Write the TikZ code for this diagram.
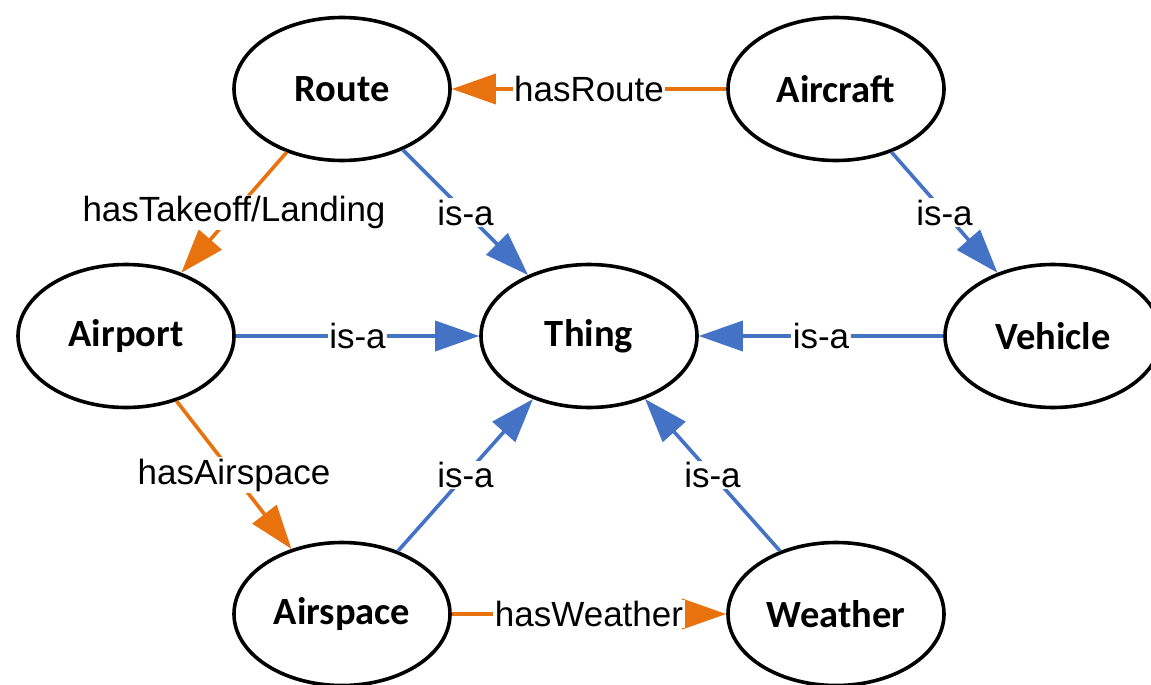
\documentclass[tikz,border=0pt]{standalone}
\usepackage{fontspec}
\setmainfont{Liberation Sans}
\newfontfamily\nodefont{Carlito}
\usetikzlibrary{arrows.meta,shapes.geometric}
\definecolor{orangeC}{RGB}{232,114,14}
\definecolor{blueC}{RGB}{68,114,196}
\begin{document}
\begin{tikzpicture}[x=1pt,y=-1pt,
  concept/.style={ellipse,draw=black,line width=3.6pt,minimum width=216pt,minimum height=143pt,inner sep=0pt,font=\nodefont\bfseries\fontsize{38.5}{40}\selectfont},
  rel/.style={line width=3.6pt,-{Triangle[length=44pt,width=30pt]}},
  isa/.style={rel,draw=blueC},
  has/.style={rel,draw=orangeC},
  lbl/.style={fill=white,inner sep=1.5pt,font=\fontsize{35}{36}\selectfont,text=black}
]
\fill[white] (0,0) rectangle (1151,685);
\useasboundingbox (0,0) rectangle (1151,685);

\node[concept] (Route)    at (342,89)   {Route};
\node[concept] (Aircraft) at (836,89)   {Aircraft};
\node[concept] (Airport)  at (126,336)  {Airport};
\node[concept] (Thing)    at (589,336)  {Thing};
\node[concept] (Vehicle)  at (1053,336) {Vehicle};
\node[concept] (Airspace) at (342,614)  {Airspace};
\node[concept] (Weather)  at (836,614)  {Weather};

\draw[has] (Aircraft) -- node[lbl]{hasRoute} (Route);
\draw[has] (Route) -- node[lbl]{hasTakeoff/Landing} (Airport);
\draw[isa] (Route) -- node[lbl]{is-a} (Thing);
\draw[isa] (Aircraft) -- node[lbl]{is-a} (Vehicle);
\draw[isa] (Airport) -- node[lbl]{is-a} (Thing);
\draw[isa] (Vehicle) -- node[lbl]{is-a} (Thing);
\draw[has] (Airport) -- node[lbl]{hasAirspace} (Airspace);
\draw[isa] (Airspace) -- node[lbl]{is-a} (Thing);
\draw[isa] (Weather) -- node[lbl]{is-a} (Thing);
\draw[has] (Airspace) -- node[lbl]{hasWeather} (Weather);
\end{tikzpicture}
\end{document}
